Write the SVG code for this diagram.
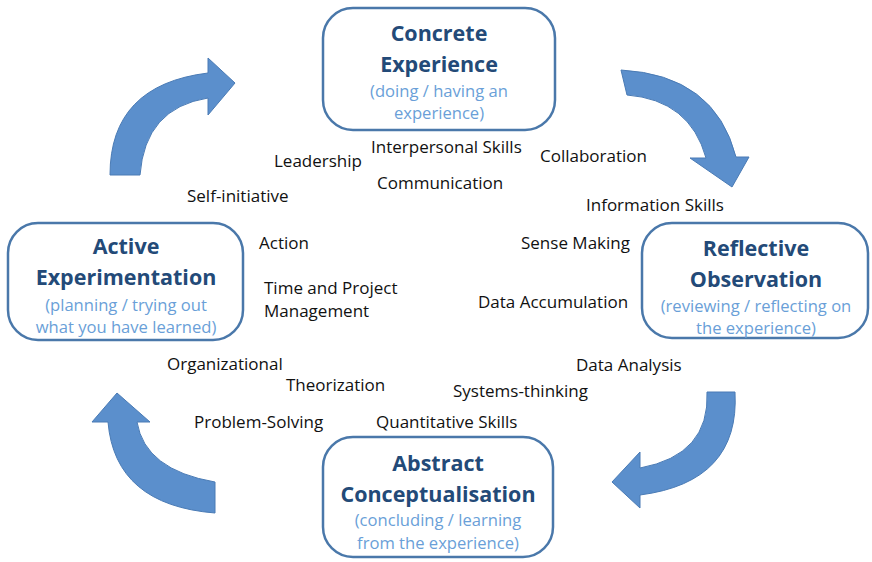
<svg xmlns="http://www.w3.org/2000/svg" width="872" height="562" viewBox="0 0 872 562">
<style>
.box{fill:#fff;stroke:#4a78aa;stroke-width:2.5}
.t{font-family:"Open Sans",Lato,sans-serif;font-weight:bold;font-size:21.5px;fill:#234a78;text-anchor:middle}
.s{font-family:"Open Sans",Lato,sans-serif;font-size:16.6px;fill:#6a9fd8;text-anchor:middle}
.l{font-family:"Open Sans",Lato,sans-serif;font-size:17px;fill:#111}
.arr{fill:#5b8fcc;stroke:#4a7bb5;stroke-width:1}
</style>
<rect width="872" height="562" fill="#fff"/>
<g id="connectors">
<path class="arr" d="M621,70 Q715,75 736,157 L749,157 L732,187 L690,158 L706,158 Q690,100 627,95 Z"/>
<path class="arr" d="M707,392 L735,392 Q740,482 640,495 L640,508 L612,482 L640,452 L640,468 Q710,455 707,392 Z"/>
<path class="arr" d="M215,482 Q145,470 137,422 L150,422 L117,393 L92,422 L108,422 Q115,505 215,513 Z"/>
<path class="arr" d="M110,175 Q110,85 208,73 L208,58 L235,83 L208,115 L208,98 Q145,108 140,175 Z"/>
</g>
<g id="concrete">
<rect class="box" x="323" y="8" width="232" height="122" rx="30"/>
<text class="t" x="439" y="41">Concrete</text>
<text class="t" x="439" y="72">Experience</text>
<text class="s" x="439" y="97">(doing / having an</text>
<text class="s" x="439" y="119">experience)</text>
</g>
<g id="reflective">
<rect class="box" x="642" y="223" width="226" height="115" rx="30"/>
<text class="t" x="756" y="256">Reflective</text>
<text class="t" x="756" y="287">Observation</text>
<text class="s" x="756" y="312">(reviewing / reflecting on</text>
<text class="s" x="756" y="334">the experience)</text>
</g>
<g id="abstract">
<rect class="box" x="323" y="437" width="230" height="120" rx="30"/>
<text class="t" x="438" y="471">Abstract</text>
<text class="t" x="438" y="502">Conceptualisation</text>
<text class="s" x="438" y="526">(concluding / learning</text>
<text class="s" x="438" y="549">from the experience)</text>
</g>
<g id="active">
<rect class="box" x="8" y="223" width="235" height="117" rx="30"/>
<text class="t" x="126" y="254">Active</text>
<text class="t" x="126" y="285">Experimentation</text>
<text class="s" x="126" y="311">(planning / trying out</text>
<text class="s" x="126" y="333">what you have learned)</text>
</g>
<g id="labels">
<text class="l" x="371" y="153">Interpersonal Skills</text>
<text class="l" x="274" y="167">Leadership</text>
<text class="l" x="540" y="162">Collaboration</text>
<text class="l" x="377" y="189">Communication</text>
<text class="l" x="187" y="202">Self-initiative</text>
<text class="l" x="586" y="211">Information Skills</text>
<text class="l" x="259" y="249">Action</text>
<text class="l" x="521" y="249">Sense Making</text>
<text class="l" x="264" y="294">Time and Project</text>
<text class="l" x="264" y="317">Management</text>
<text class="l" x="478" y="308">Data Accumulation</text>
<text class="l" x="576" y="371">Data Analysis</text>
<text class="l" x="167" y="370">Organizational</text>
<text class="l" x="286" y="391">Theorization</text>
<text class="l" x="453" y="397">Systems-thinking</text>
<text class="l" x="194" y="428">Problem-Solving</text>
<text class="l" x="376" y="428">Quantitative Skills</text>
</g>
</svg>
